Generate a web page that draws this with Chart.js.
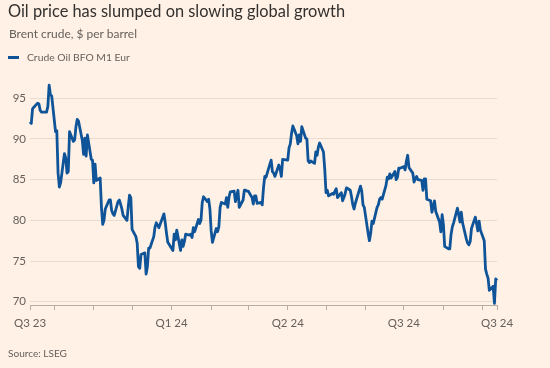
<!DOCTYPE html>
<html>
<head>
<meta charset="utf-8">
<script src="https://cdn.jsdelivr.net/npm/chart.js@4.4.1/dist/chart.umd.min.js"></script>
<style>
  html, body { margin: 0; padding: 0; background: #fff1e5; }
  #wrap { position: relative; width: 550px; height: 368px; background: #fff1e5; font-family: Lato, "Open Sans", sans-serif; }
  #chart { position: absolute; left: 0; top: 0; }
  .txt { position: absolute; white-space: nowrap; }
  #title { left: 8px; top: 0; font-size: 16px; line-height: 22px; color: #33302e; }
  #subtitle { left: 9px; top: 25px; font-size: 11.5px; line-height: 18px; color: #66605c; }
  #swatch { position: absolute; left: 8px; top: 56px; width: 11px; height: 3px; background: #0f5499; }
  #legend { left: 27px; top: 49px; font-size: 10.5px; line-height: 16px; color: #66605c; }
  #source { left: 8px; top: 345px; font-size: 10.5px; line-height: 16px; color: #66605c; }
</style>
</head>
<body>
<div id="wrap">
  <canvas id="chart" width="550" height="368"></canvas>
  <div class="txt" id="title">Oil price has slumped on slowing global growth</div>
  <div class="txt" id="subtitle">Brent crude, $ per barrel</div>
  <div id="swatch"></div>
  <div class="txt" id="legend">Crude Oil BFO M1 Eur</div>
  <div class="txt" id="source">Source: LSEG</div>
</div>
<script>
// Brent daily prices
const dates = [
  "2023-09-12","2023-09-13","2023-09-14","2023-09-15","2023-09-18","2023-09-19","2023-09-20","2023-09-21","2023-09-22","2023-09-25","2023-09-26","2023-09-27","2023-09-28","2023-09-29",
  "2023-10-02","2023-10-03","2023-10-04","2023-10-05","2023-10-06","2023-10-09","2023-10-10","2023-10-11","2023-10-12","2023-10-13","2023-10-16","2023-10-17","2023-10-18","2023-10-19","2023-10-20","2023-10-23","2023-10-24","2023-10-25","2023-10-26","2023-10-27","2023-10-30","2023-10-31",
  "2023-11-01","2023-11-02","2023-11-03","2023-11-06","2023-11-07","2023-11-08","2023-11-09","2023-11-10","2023-11-13","2023-11-14","2023-11-15","2023-11-16","2023-11-17","2023-11-20","2023-11-21","2023-11-22","2023-11-23","2023-11-24","2023-11-27","2023-11-28","2023-11-29","2023-11-30",
  "2023-12-01","2023-12-04","2023-12-05","2023-12-06","2023-12-07","2023-12-08","2023-12-11","2023-12-12","2023-12-13","2023-12-14","2023-12-15","2023-12-18","2023-12-19","2023-12-20","2023-12-21","2023-12-22","2023-12-26","2023-12-27","2023-12-28","2023-12-29",
  "2024-01-02","2024-01-03","2024-01-04","2024-01-05","2024-01-08","2024-01-09","2024-01-10","2024-01-11","2024-01-12","2024-01-15","2024-01-16","2024-01-17","2024-01-18","2024-01-19","2024-01-22","2024-01-23","2024-01-24","2024-01-25","2024-01-26","2024-01-29","2024-01-30","2024-01-31",
  "2024-02-01","2024-02-02","2024-02-05","2024-02-06","2024-02-07","2024-02-08","2024-02-09","2024-02-12","2024-02-13","2024-02-14","2024-02-15","2024-02-16","2024-02-19","2024-02-20","2024-02-21","2024-02-22","2024-02-23","2024-02-26","2024-02-27","2024-02-28","2024-02-29",
  "2024-03-01","2024-03-04","2024-03-05","2024-03-06","2024-03-07","2024-03-08","2024-03-11","2024-03-12","2024-03-13","2024-03-14","2024-03-15","2024-03-18","2024-03-19","2024-03-20","2024-03-21","2024-03-22","2024-03-25","2024-03-26","2024-03-27","2024-03-28",
  "2024-04-01","2024-04-02","2024-04-03","2024-04-04","2024-04-05","2024-04-08","2024-04-09","2024-04-10","2024-04-11","2024-04-12","2024-04-15","2024-04-16","2024-04-17","2024-04-18","2024-04-19","2024-04-22","2024-04-23","2024-04-24","2024-04-25","2024-04-26","2024-04-29","2024-04-30",
  "2024-05-01","2024-05-02","2024-05-03","2024-05-06","2024-05-07","2024-05-08","2024-05-09","2024-05-10","2024-05-13","2024-05-14","2024-05-15","2024-05-16","2024-05-17","2024-05-20","2024-05-21","2024-05-22","2024-05-23","2024-05-24","2024-05-28","2024-05-29","2024-05-30","2024-05-31",
  "2024-06-03","2024-06-04","2024-06-05","2024-06-06","2024-06-07","2024-06-10","2024-06-11","2024-06-12","2024-06-13","2024-06-14","2024-06-17","2024-06-18","2024-06-19","2024-06-20","2024-06-21","2024-06-24","2024-06-25","2024-06-26","2024-06-27","2024-06-28",
  "2024-07-01","2024-07-02","2024-07-03","2024-07-04","2024-07-05","2024-07-08","2024-07-09","2024-07-10","2024-07-11","2024-07-12","2024-07-15","2024-07-16","2024-07-17","2024-07-18","2024-07-19","2024-07-22","2024-07-23","2024-07-24","2024-07-25","2024-07-26","2024-07-29","2024-07-30","2024-07-31",
  "2024-08-01","2024-08-02","2024-08-05","2024-08-06","2024-08-07","2024-08-08","2024-08-09","2024-08-12","2024-08-13","2024-08-14","2024-08-15","2024-08-16","2024-08-19","2024-08-20","2024-08-21","2024-08-22","2024-08-23","2024-08-26","2024-08-27","2024-08-28","2024-08-29","2024-08-30",
  "2024-09-02","2024-09-03","2024-09-04","2024-09-05","2024-09-06","2024-09-09","2024-09-10","2024-09-11","2024-09-12"
];
const prices = [
  92.1, 91.9, 93.7, 93.9, 94.4, 94.3, 93.5, 93.3, 93.3, 93.3, 94.0, 96.6, 95.4, 95.3,
  90.9, 91.0, 85.8, 84.1, 84.6, 88.2, 87.7, 85.8, 86.0, 90.9, 89.7, 89.9, 91.5, 92.4, 92.2, 89.8, 88.1, 90.1, 87.9, 90.5, 87.5, 87.4,
  84.6, 86.9, 84.9, 85.2, 81.6, 79.5, 80.0, 81.4, 82.5, 82.5, 81.2, 80.8, 80.6, 82.3, 82.5, 82.0, 81.4, 80.6, 80.0, 81.7, 83.1, 82.8,
  78.9, 78.0, 77.2, 74.3, 74.1, 75.8, 76.0, 73.4, 74.3, 76.6, 76.6, 78.0, 79.2, 79.7, 79.4, 79.1, 80.8, 79.7, 78.4, 77.3,
  76.3, 78.3, 77.6, 78.8, 76.3, 77.6, 76.8, 77.4, 78.3, 78.2, 78.3, 77.9, 79.1, 78.6, 80.1, 79.6, 80.0, 82.2, 82.9, 82.3, 82.6, 81.4,
  78.7, 77.3, 79.0, 78.6, 79.2, 81.6, 82.2, 82.0, 82.8, 81.6, 82.9, 83.5, 83.6, 82.3, 83.0, 83.7, 81.6, 82.5, 83.7, 83.7, 83.6,
  83.6, 82.8, 82.0, 83.0, 83.0, 82.1, 82.2, 81.9, 84.0, 85.4, 85.3, 86.9, 87.4, 86.0, 85.8, 85.4, 86.8, 86.3, 85.4, 87.5,
  87.4, 88.9, 89.4, 90.7, 91.6, 90.4, 89.4, 90.5, 89.7, 91.5, 90.1, 90.0, 87.3, 87.1, 87.3, 87.0, 88.4, 88.0, 89.0, 89.5, 88.4, 86.3,
  83.4, 83.7, 83.0, 83.3, 83.2, 83.6, 83.9, 82.8, 83.4, 82.4, 82.8, 83.3, 84.0, 83.7, 82.9, 81.9, 81.4, 82.1, 84.2, 83.6, 81.9, 81.6,
  78.4, 77.5, 78.4, 79.9, 79.6, 81.6, 81.9, 82.6, 82.8, 82.6, 84.3, 85.3, 85.1, 85.7, 85.2, 86.0, 85.0, 85.3, 86.4, 86.4,
  86.6, 86.2, 87.3, 88.0, 86.5, 85.8, 84.7, 85.1, 85.4, 85.0, 84.9, 83.7, 85.1, 85.1, 82.6, 82.4, 81.0, 81.7, 82.4, 81.1, 79.8, 78.6, 80.7,
  79.5, 76.8, 76.5, 76.5, 78.3, 79.2, 79.7, 81.5, 80.7, 79.8, 81.0, 79.7, 77.7, 77.2, 77.0, 77.4, 79.0, 80.4, 79.6, 78.7, 79.9, 78.8,
  77.5, 74.0, 73.4, 72.9, 71.4, 71.9, 69.8, 72.8, 72.6
];

const startDate = "2023-09-12";
const endDate = "2024-09-12";
const yTicks = [70, 75, 80, 85, 90, 95];
const xTickDates = ["2023-09-12", "2023-10-01", "2023-11-01", "2023-12-01", "2024-01-01", "2024-02-01", "2024-03-01",
  "2024-04-01", "2024-05-01", "2024-06-01", "2024-07-01", "2024-08-01", "2024-09-01", "2024-09-12"];
const xTickLabels = ["Q3 23", "", "", "", "Q1 24", "", "", "Q2 24", "", "", "Q3 24", "", "", "Q3 24"];

const textColor = "#66605c";
const fontFamily = "Lato, 'Open Sans', sans-serif";

// scale each heading so it spans the same width as in the printed chart
function fitText(id, width) {
  const el = document.getElementById(id);
  const size = parseFloat(getComputedStyle(el).fontSize);
  el.style.fontSize = (size * width / el.getBoundingClientRect().width).toFixed(2) + "px";
}
fitText("title", 337);
fitText("subtitle", 128);
fitText("legend", 103);
fitText("source", 59);

function dayOf(d) {
  return (Date.parse(d) - Date.parse(startDate)) / 86400000;
}

const points = dates.map((d, i) => ({ x: dayOf(d), y: prices[i] }));

new Chart(document.getElementById("chart"), {
  type: "line",
  data: {
    datasets: [{
      label: "Crude Oil BFO M1 Eur",
      data: points,
      borderColor: "#0f5499",
      borderWidth: 2.8,
      pointRadius: 0,
      tension: 0,
      borderJoinStyle: "round",
      clip: false
    }]
  },
  options: {
    responsive: false,
    animation: false,
    devicePixelRatio: 1,
    layout: { padding: { top: 82, right: 53, left: 0, bottom: 0 } },
    plugins: {
      legend: { display: false },
      tooltip: { enabled: false }
    },
    scales: {
      x: {
        type: "linear",
        min: 0,
        max: dayOf(endDate),
        afterBuildTicks: scale => {
          scale.ticks = xTickDates.map(d => ({ value: dayOf(d) }));
        },
        afterFit: scale => { scale.height = 63; },
        ticks: {
          autoSkip: false,
          maxRotation: 0,
          padding: 6,
          color: textColor,
          font: { family: fontFamily, size: 11.5 },
          callback: (value, index) => xTickLabels[index]
        },
        grid: { drawOnChartArea: false, drawTicks: true, tickLength: 5, color: "#b9ada2" },
        border: { display: true, color: "#b9ada2" }
      },
      y: {
        min: 69.6,
        max: 97,
        afterBuildTicks: scale => {
          scale.ticks = yTicks.map(v => ({ value: v }));
        },
        afterFit: scale => { scale.width = 30; },
        ticks: {
          padding: 4,
          color: textColor,
          font: { family: fontFamily, size: 11.5 }
        },
        grid: { color: "#e9dccf", drawTicks: false },
        border: { display: false }
      }
    }
  }
});
</script>
</body>
</html>
